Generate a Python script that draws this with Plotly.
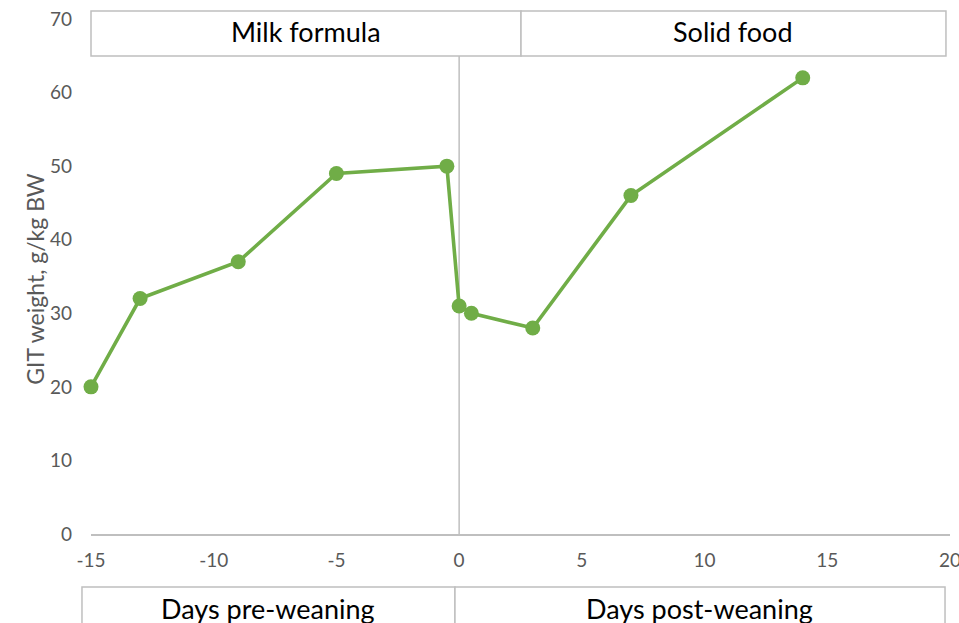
import plotly.graph_objects as go

# GIT weight relative to body weight around weaning
days = [-15, -13, -9, -5, -0.5, 0, 0.5, 3, 7, 14]
git_weight = [20, 32, 37, 49, 50, 31, 30, 28, 46, 62]

x_ticks = [-15, -10, -5, 0, 5, 10, 15, 20]
x_tick_text = ["-15", "-10", "-5", "0", "5", "10", "15", "20"]
y_ticks = [0, 10, 20, 30, 40, 50, 60, 70]

top_labels = ["Milk formula", "Solid food"]
bottom_labels = ["Days pre-weaning", "Days post-weaning"]

GREEN = "#70ad47"
GRID = "#bfbfbf"
TICK = "#595959"
FONT = "Lato, 'Open Sans', sans-serif"

fig = go.Figure()
fig.add_trace(go.Scatter(
    x=days, y=git_weight, mode="lines+markers",
    line=dict(color=GREEN, width=3.6),
    marker=dict(color=GREEN, size=15),
    showlegend=False, cliponaxis=False,
))

shapes = []
annotations = []

# vertical weaning line at day 0
shapes.append(dict(type="line", xref="x", yref="paper", x0=0, x1=0, y0=0, y1=0.928,
                   line=dict(color=GRID, width=1.5), layer="below"))

# feeding-phase boxes above the plot
top_spans = [(0.0, 0.5006), (0.5006, 0.9953)]
for (x0, x1), lab in zip(top_spans, top_labels):
    shapes.append(dict(type="rect", xref="paper", yref="paper", x0=x0, x1=x1,
                       y0=0.928, y1=1.0155, line=dict(color=GRID, width=1.5),
                       fillcolor="white", layer="above"))
    annotations.append(dict(xref="paper", yref="paper", x=(x0 + x1) / 2, y=0.976,
                            text=lab, showarrow=False,
                            font=dict(family=FONT, size=27, color="black"),
                            xanchor="center", yanchor="middle"))

# period boxes below the x axis
bottom_spans = [(-0.0105, 0.4237), (0.4237, 0.9942)]
for (x0, x1), lab in zip(bottom_spans, bottom_labels):
    shapes.append(dict(type="rect", xref="paper", yref="paper", x0=x0, x1=x1,
                       y0=-0.2, y1=-0.103, line=dict(color=GRID, width=1.5),
                       fillcolor="white"))
    annotations.append(dict(xref="paper", yref="paper", x=(x0 + x1) / 2, y=-0.144,
                            text=lab, showarrow=False,
                            font=dict(family=FONT, size=27, color="black"),
                            xanchor="center", yanchor="middle"))

# y axis title
annotations.append(dict(xref="paper", yref="paper", x=-0.066, y=0.496,
                        text="GIT weight, g/kg BW", textangle=-90, showarrow=False,
                        font=dict(family=FONT, size=23, color=TICK),
                        xanchor="center", yanchor="middle"))

fig.update_layout(
    width=959, height=623,
    margin=dict(l=91, r=9, t=19, b=89, autoexpand=False),
    paper_bgcolor="white", plot_bgcolor="white",
    shapes=shapes, annotations=annotations,
    font=dict(family=FONT, color=TICK, size=19),
)
fig.update_xaxes(range=[-15, 20], tickvals=x_ticks, ticktext=x_tick_text,
                 showgrid=False, zeroline=False, automargin=False,
                 showline=True, linecolor=GRID, linewidth=1.5, ticks="",
                 ticklabelstandoff=8, ticklabeloverflow="allow",
                 tickfont=dict(size=19, color=TICK))
fig.update_yaxes(range=[0, 70], tickvals=y_ticks, showgrid=False, zeroline=False,
                 showline=False, ticks="", ticklabelstandoff=18, automargin=False,
                 tickfont=dict(size=19, color=TICK))

fig.write_html("out.html")
